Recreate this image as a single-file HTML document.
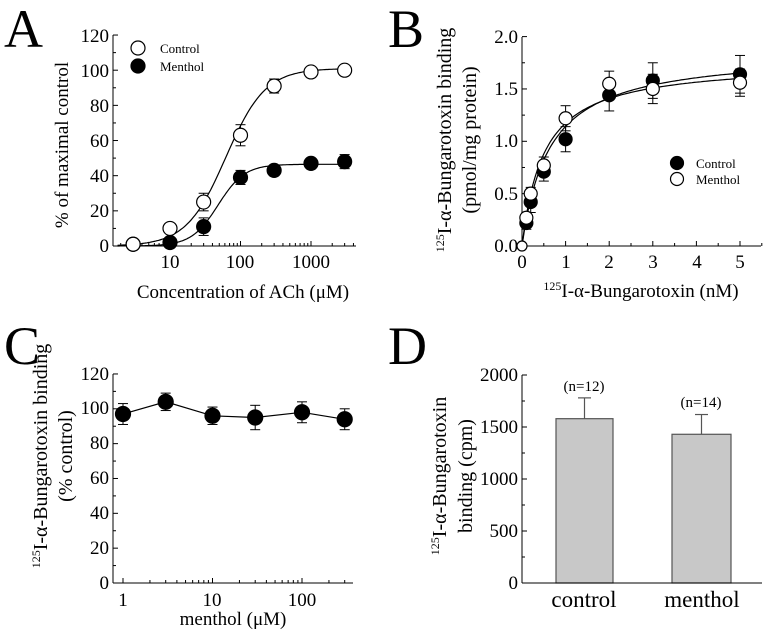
<!DOCTYPE html>
<html><head><meta charset="utf-8"><style>
html,body{margin:0;padding:0;background:#fff}
svg{display:block}
text{font-family:"Liberation Serif",serif;fill:#000}
</style></head><body>
<svg id="s" width="768" height="631" viewBox="0 0 768 631" xmlns="http://www.w3.org/2000/svg">
<g id="g"></g>
<text x="4" y="47" font-size="54">A</text>
<text x="388" y="47" font-size="54">B</text>
<text x="4" y="364" font-size="54">C</text>
<text x="388" y="364" font-size="54">D</text>
<!-- A -->
<g font-size="19" text-anchor="end">
<text x="109" y="252">0</text><text x="109" y="217">20</text><text x="109" y="182">40</text><text x="109" y="147">60</text><text x="109" y="112">80</text><text x="109" y="77">100</text><text x="109" y="42">120</text>
</g>
<g font-size="19" text-anchor="middle">
<text x="170" y="268">10</text><text x="240" y="268">100</text><text x="311" y="268">1000</text>
</g>
<text x="243" y="298" font-size="19" text-anchor="middle">Concentration of ACh (μM)</text>
<text transform="translate(68,145) rotate(-90)" font-size="19" text-anchor="middle">% of maximal control</text>
<text x="160" y="53" font-size="13">Control</text>
<text x="160" y="71" font-size="13">Menthol</text>
<!-- B -->
<g font-size="19" text-anchor="end">
<text x="518" y="252">0.0</text><text x="518" y="200">0.5</text><text x="518" y="147">1.0</text><text x="518" y="95">1.5</text><text x="518" y="43">2.0</text>
</g>
<g font-size="19" text-anchor="middle">
<text x="522" y="268">0</text><text x="566" y="268">1</text><text x="609" y="268">2</text><text x="653" y="268">3</text><text x="697" y="268">4</text><text x="740" y="268">5</text>
</g>
<text x="641" y="297" font-size="19" text-anchor="middle"><tspan font-size="12" dy="-7">125</tspan><tspan dy="7">I-α-Bungarotoxin (nM)</tspan></text>
<text transform="translate(451,140) rotate(-90)" font-size="20" text-anchor="middle"><tspan font-size="12" dy="-7">125</tspan><tspan dy="7">I-α-Bungarotoxin binding</tspan></text>
<text transform="translate(476,140) rotate(-90)" font-size="20" text-anchor="middle">(pmol/mg protein)</text>
<text x="696" y="168" font-size="13">Control</text>
<text x="696" y="184" font-size="13">Menthol</text>
<!-- C -->
<g font-size="19" text-anchor="end">
<text x="109" y="589">0</text><text x="109" y="554">20</text><text x="109" y="519">40</text><text x="109" y="484">60</text><text x="109" y="449">80</text><text x="109" y="414">100</text><text x="109" y="380">120</text>
</g>
<g font-size="19" text-anchor="middle">
<text x="123" y="606">1</text><text x="212" y="606">10</text><text x="302" y="606">100</text>
</g>
<text x="233" y="625" font-size="19" text-anchor="middle">menthol (μM)</text>
<text transform="translate(47,456) rotate(-90)" font-size="20" text-anchor="middle"><tspan font-size="12" dy="-7">125</tspan><tspan dy="7">I-α-Bungarotoxin binding</tspan></text>
<text transform="translate(72,456) rotate(-90)" font-size="20" text-anchor="middle">(% control)</text>
<!-- D -->
<g font-size="19" text-anchor="end">
<text x="518" y="589">0</text><text x="518" y="537">500</text><text x="518" y="485">1000</text><text x="518" y="433">1500</text><text x="518" y="381">2000</text>
</g>
<text x="584" y="391" font-size="15" text-anchor="middle">(n=12)</text>
<text x="701" y="407" font-size="15" text-anchor="middle">(n=14)</text>
<text x="584" y="607" font-size="23" text-anchor="middle">control</text>
<text x="702" y="607" font-size="23" text-anchor="middle">menthol</text>
<text transform="translate(446,476) rotate(-90)" font-size="20" text-anchor="middle"><tspan font-size="12" dy="-7">125</tspan><tspan dy="7">I-α-Bungarotoxin</tspan></text>
<text transform="translate(472,476) rotate(-90)" font-size="20" text-anchor="middle">binding (cpm)</text>
</svg>
<script>
var g=document.getElementById('g'),h='';
function L(x1,y1,x2,y2,w,c){h+='<line x1="'+x1+'" y1="'+y1+'" x2="'+x2+'" y2="'+y2+'" stroke="'+(c||'#000')+'" stroke-width="'+(w||1)+'"/>';}
function C(x,y,r,f){h+='<circle cx="'+x+'" cy="'+y+'" r="'+r+'" fill="'+(f?'#000':'#fff')+'" stroke="#000" stroke-width="1.2"/>';}
function E(x,y1,y2){L(x,y1,x,y2);L(x-5,y1,x+5,y1);L(x-5,y2,x+5,y2);}
function P(pts){h+='<polyline fill="none" stroke="#000" stroke-width="1.2" points="'+pts.map(p=>p[0].toFixed(1)+','+p[1].toFixed(1)).join(' ')+'"/>';}
var ax=v=>170+(Math.log10(v)-1)*70.5, ay=v=>246-v*1.758;
L(113,35,113,246);L(113,246,356,246);
for(var v=0;v<=120;v+=10)L(113,ay(v),v%20?116:118,ay(v));
for(var d=1;d<=1000;d*=10)for(var k=1;k<10;k++){var xv=d*k;var x=ax(xv);if(x<113||x>356)continue;L(x,246,x,k==1?241:243);}
var c1=[],c2=[];for(var lx=Math.log10(1.8);lx<=Math.log10(3200);lx+=0.02){var v=Math.pow(10,lx);c1.push([ax(v),ay(101/(1+Math.pow(62/v,1.55)))]);c2.push([ax(v),ay(46.5/(1+Math.pow(48/v,2.3)))]);}
P(c1);P(c2);
var xs=[3,10,30,100,300,1000,3000],cA=[1,10,25,63,91,99,100],eA=[0,2,5,6,4,2,0],mA=[1,2,11,39,43,47,48],emA=[0,0,5,4,3,3,4];
xs.forEach((x,i)=>{if(eA[i])E(ax(x),ay(cA[i]+eA[i]),ay(cA[i]-eA[i]));if(emA[i])E(ax(x),ay(mA[i]+emA[i]),ay(mA[i]-emA[i]));});
xs.forEach((x,i)=>{C(ax(x),ay(mA[i]),7,1);C(ax(x),ay(cA[i]),7,0);});
C(138,48,7,0);C(138,66,7,1);
var bx=v=>522+v*43.6, by=v=>246-v*104.7;
L(522,37,522,246);L(522,246,761,246);
for(var v=0;v<=2.001;v+=0.25)L(522,by(v),Math.round(v*100)%50?525:527,by(v));
for(var v=0;v<=5.5;v+=0.5)L(bx(v),246,bx(v),v%1?243:241);
var b1=[],b2=[];for(var v=0;v<=5.01;v+=0.05){b1.push([bx(v),by(1.86*v/(0.63+v))]);b2.push([bx(v),by(1.76*v/(0.5+v))]);}
P(b1);P(b2);
var bxs=[0.1,0.2,0.5,1,2,3,5],bc=[0.22,0.42,0.71,1.02,1.44,1.58,1.64],bec=[0.06,0.1,0.09,0.12,0.15,0.17,0.18],bm=[0.27,0.5,0.77,1.22,1.55,1.5,1.56],bem=[0.05,0.06,0.08,0.12,0.12,0.14,0.13];
bxs.forEach((x,i)=>{E(bx(x),by(bc[i]+bec[i]),by(bc[i]-bec[i]));E(bx(x),by(bm[i]+bem[i]),by(bm[i]-bem[i]));});
C(522,246,5,0);
bxs.forEach((x,i)=>{C(bx(x),by(bc[i]),6.5,1);C(bx(x),by(bm[i]),6.5,0);});
C(677,163,6.5,1);C(677,179,6.5,0);
var cx=v=>123+Math.log10(v)*89.5, cy=v=>583-v*1.742;
L(113,374,113,583);L(113,583,353,583);
for(var v=0;v<=120;v+=10)L(113,cy(v),v%20?116:118,cy(v));
for(var d=1;d<=100;d*=10)for(var k=1;k<10;k++){var x=cx(d*k);if(x>353)continue;L(x,583,x,k==1?578:580);}
var cxs=[1,3,10,30,100,300],cv=[97,104,96,95,98,94],ce=[6,5,5,7,6,6];
P(cxs.map((x,i)=>[cx(x),cy(cv[i])]));
cxs.forEach((x,i)=>{E(cx(x),cy(cv[i]+ce[i]),cy(cv[i]-ce[i]));});
cxs.forEach((x,i)=>C(cx(x),cy(cv[i]),7.5,1));
var dy=v=>583-v*0.104;
h+='<rect x="556" y="'+dy(1580)+'" width="57" height="'+(1580*0.104)+'" fill="#c8c8c8" stroke="#555" stroke-width="1.2"/>';
h+='<rect x="672" y="'+dy(1430)+'" width="59" height="'+(1430*0.104)+'" fill="#c8c8c8" stroke="#555" stroke-width="1.2"/>';
L(584.5,dy(1580),584.5,dy(1780),1.2,'#555');L(578,dy(1780),591,dy(1780),1.2,'#555');
L(701.5,dy(1430),701.5,dy(1620),1.2,'#555');L(695,dy(1620),708,dy(1620),1.2,'#555');
L(522,375,522,583);L(522,583,762,583);
for(var v=0;v<=2000;v+=250)L(522,dy(v),v%500?525:527,dy(v));
g.innerHTML=h;
</script>
</body></html>
